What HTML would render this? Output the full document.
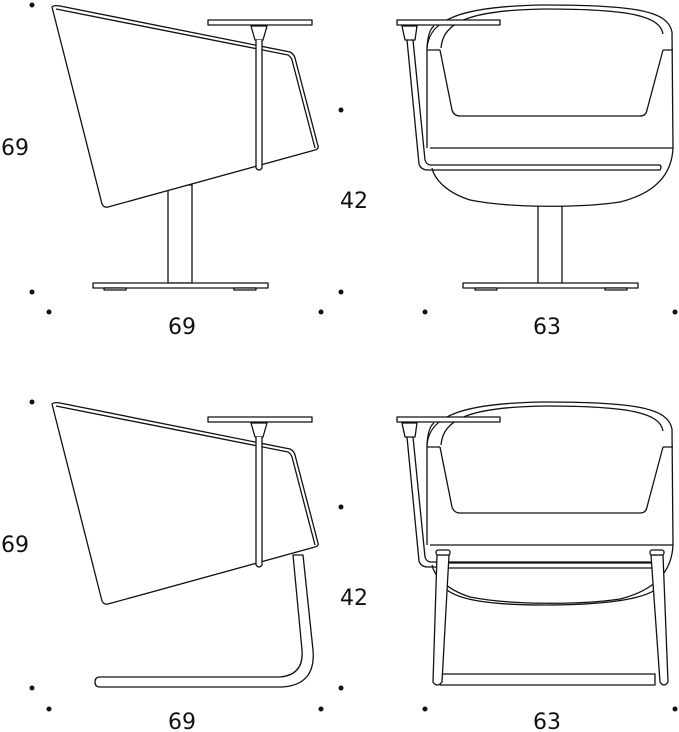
<!DOCTYPE html>
<html><head><meta charset="utf-8"><style>
html,body{margin:0;padding:0;background:#fff;}
svg{display:block;}
text{font-family:"DejaVu Sans","Liberation Sans",sans-serif;font-size:22px;fill:#111;}
</style></head><body>
<svg width="679" height="732" viewBox="0 0 679 732" xmlns="http://www.w3.org/2000/svg" fill="none" stroke="#111" stroke-width="1.3" stroke-linejoin="round">
<defs>
<g id="side">
  <path d="M52,7 Q54,5 60,6 L290,52 Q294,54 295,58 L318,146 Q319,149 315,150 L108,207 Q104,208 102,204 Z" fill="#fff"/>
  <path d="M56,9 L288,55 Q291,57 292,60 L315,148"/>
  <rect x="208" y="20" width="104" height="5" fill="#fff"/>
  <path d="M251,26 L267,26 L263,40 L255,40 Z" fill="#fff"/>
  <path d="M256,40 L256,168 Q259,172 262,168 L262,40" fill="#fff"/>
</g>
<g id="front">
  <path d="M427,48 C429,20 460,6 545,5 C640,5 668,12 672,32 L673,148 C672,170 660,192 620,202 C580,208 510,208 470,200 C445,192 434,178 432,168" fill="#fff"/>
  <path d="M441,48 C443,22 470,10 545,9 C630,9 660,16 663,34"/>
  <path d="M440,50 L452,110 Q454,116 460,116 L640,116 Q646,116 647,110 L663,50"/>
  <path d="M427,50 L440,50 M663,50 L673,50"/>
  <path d="M427,48 L427,148"/>
  <path d="M430,148 L673,148"/>
  <path d="M434,26 Q428,30 427,48"/>
  <path d="M407,40 L419,164 Q421,170 428,170 L660,170 Q662,167 660,165 L430,165 Q426,164 425,160 L413,40"/>
  <rect x="397" y="20" width="103" height="5" fill="#fff"/>
  <path d="M402,26 L417,26 L415,40 L405,40 Z" fill="#fff"/>
</g>
</defs>

<g fill="#111" stroke="none">
<circle cx="32" cy="5" r="2.5"/><circle cx="32" cy="292" r="2.5"/><circle cx="49" cy="312" r="2.5"/><circle cx="321" cy="312" r="2.5"/>
<circle cx="341" cy="110" r="2.5"/><circle cx="341" cy="292" r="2.5"/><circle cx="425" cy="312" r="2.5"/><circle cx="675" cy="312" r="2.5"/>
<circle cx="32" cy="402" r="2.5"/><circle cx="32" cy="688" r="2.5"/><circle cx="49" cy="709" r="2.5"/><circle cx="321" cy="709" r="2.5"/>
<circle cx="341" cy="507" r="2.5"/><circle cx="341" cy="688" r="2.5"/><circle cx="425" cy="709" r="2.5"/><circle cx="675" cy="709" r="2.5"/>
</g>

<rect x="168" y="185" width="24" height="98" fill="#fff"/>
<rect x="93" y="283" width="175" height="5" fill="#fff"/>
<rect x="104" y="288" width="22" height="2" fill="#fff"/>
<rect x="234" y="288" width="22" height="2" fill="#fff"/>
<use href="#side"/>

<path d="M538,283 L538,183 Q550,177 562,183 L562,283" fill="#fff"/>
<rect x="463" y="283" width="175" height="5" fill="#fff"/>
<rect x="475" y="288" width="22" height="2" fill="#fff"/>
<rect x="605" y="288" width="22" height="2" fill="#fff"/>
<use href="#front"/>

<path d="M293,555 L303,555 L313,650 Q316,685 282,687 L100,687 Q95,687 95,682 Q95,677 100,677 L280,677 Q304,675 302,650 Z" fill="#fff"/>
<use href="#side" transform="translate(0,397)"/>

<g transform="translate(0,397)"><use href="#front"/></g>
<path d="M447,590 C460,600 490,605 545,605 C600,605 640,600 655,590" />
<rect x="437" y="563" width="216" height="5" fill="#fff"/>
<rect x="440" y="674" width="215" height="11" fill="#fff"/>
<path d="M437,555 L433,682 Q437,688 442,682 L449,555 Z" fill="#fff"/>
<path d="M651,555 L660,682 Q664,688 668,682 L663,555 Z" fill="#fff"/>
<rect x="436" y="550" width="14" height="5" rx="2" fill="#fff"/>
<rect x="650" y="550" width="14" height="5" rx="2" fill="#fff"/>

<g stroke="none">
<text x="1" y="155">69</text>
<text x="168" y="334">69</text>
<text x="340" y="208">42</text>
<text x="533" y="334">63</text>
<text x="1" y="552">69</text>
<text x="168" y="729">69</text>
<text x="340" y="605">42</text>
<text x="533" y="729">63</text>
</g>
</svg>
</body></html>
